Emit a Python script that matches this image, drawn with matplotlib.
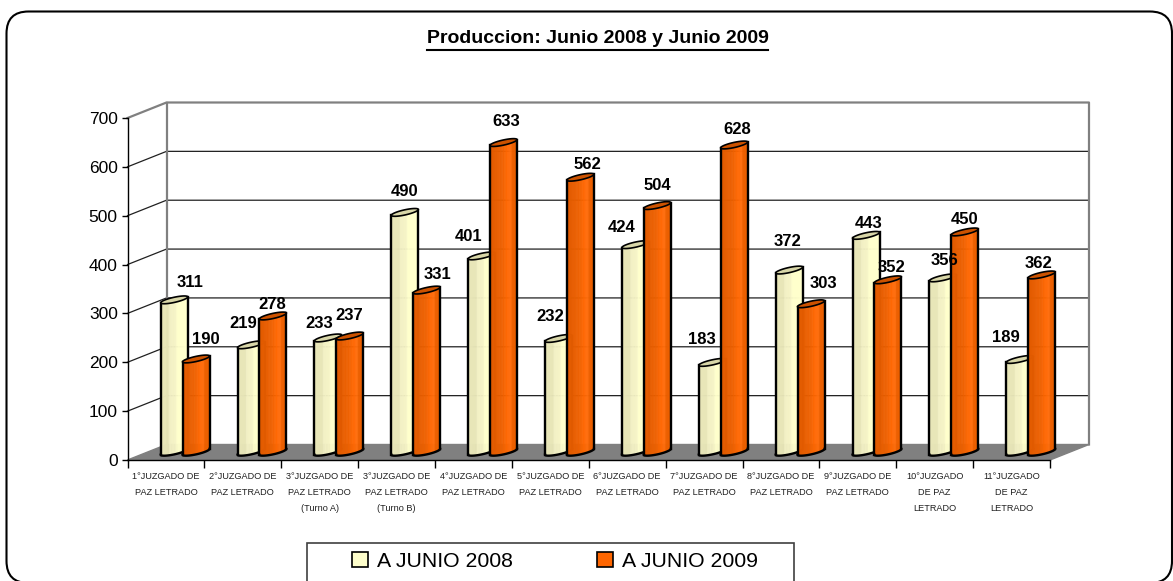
import numpy as np
import matplotlib
matplotlib.use("Agg")
import matplotlib.pyplot as plt
from matplotlib.lines import Line2D
from matplotlib.patches import FancyBboxPatch, Rectangle, Polygon
from matplotlib.collections import PolyCollection

CATEGORIES = ["1°JUZGADO DE\nPAZ LETRADO", "2°JUZGADO DE\nPAZ LETRADO",
              "3°JUZGADO DE\nPAZ LETRADO\n(Turno A)", "3°JUZGADO DE\nPAZ LETRADO\n(Turno B)",
              "4°JUZGADO DE\nPAZ LETRADO", "5°JUZGADO DE\nPAZ LETRADO",
              "6°JUZGADO DE\nPAZ LETRADO", "7°JUZGADO DE\nPAZ LETRADO",
              "8°JUZGADO DE\nPAZ LETRADO", "9°JUZGADO DE\nPAZ LETRADO",
              "10°JUZGADO\nDE PAZ\nLETRADO", "11°JUZGADO\nDE PAZ\nLETRADO"]
JUNIO_2008 = [311, 219, 233, 490, 401, 232, 424, 183, 372, 443, 356, 189]
JUNIO_2009 = [190, 278, 237, 331, 633, 562, 504, 628, 303, 352, 450, 362]
YTICKS = [0, 100, 200, 300, 400, 500, 600, 700]
TITLE = "Produccion: Junio 2008 y Junio 2009"
LEG_2008 = "A JUNIO 2008"
LEG_2009 = "A JUNIO 2009"

# label nudges in pixels (right, up from bar top)
NUDGE_2008 = [(16, 21), (-8, 25), (-8, 18), (0, 24), (-13, 23), (-8, 25),
              (-14, 20), (-10, 26), (-2, 32), (3, 15), (2, 21), (-14, 25)]
NUDGE_2009 = [(10, 23), (-1, 15), (-1, 24), (11, 19), (3, 24), (7.5, 16),
              (0, 23), (3, 19), (12, 23), (4, 16), (0, 16), (-3, 15)]

W, H = 1173, 581
plt.rcParams["font.family"] = ["Liberation Sans", "DejaVu Sans"]

fig = plt.figure(figsize=(W / 100, H / 100), dpi=100, facecolor="white")

# rounded frame (display pixels)
RAD = 22
frame = FancyBboxPatch((6.5 + RAD, -2 + RAD), 1172 - 6.5 - 2 * RAD, 569.5 + 2 - 2 * RAD,
                       boxstyle=f"round,pad={RAD},rounding_size={RAD}",
                       transform=None, fc="white", ec="black", lw=1.5, zorder=0)
fig.add_artist(frame)

L, R, T, B = 127.5, 1050.0, 118.0, 460.0
ax = fig.add_axes([L / W, (H - B) / H, (R - L) / W, (B - T) / H])
ax.set_xlim(0, 12)
ax.set_ylim(0, 700)
ax.patch.set_visible(False)
px = 12 / (R - L)   # data units per pixel
py = 700 / (B - T)
DX, DY = 39 * px, 15.5 * py

# floor and walls
GREY = "#808080"
ax.add_patch(Polygon([(0, 0), (12, 0), (12 + DX, DY), (DX, DY)], fc=GREY, ec=GREY, lw=1,
                     clip_on=False, zorder=1))
for v in YTICKS[1:-1]:
    ax.plot([0, DX, 12 + DX], [v, v + DY, v + DY], color="#202020", lw=0.9, clip_on=False, zorder=1)
ax.plot([0, DX, 12 + DX, 12 + DX], [700, 700 + DY, 700 + DY, DY], color=GREY, lw=1.6, clip_on=False, zorder=1.5)
ax.plot([DX, DX], [DY, 700 + DY], color=GREY, lw=1.6, clip_on=False, zorder=1.5)


def cylinder(x_left_px, value, stops, cap, zorder):
    a, tilt, m = 13.5, 2.9, 2.6
    x0 = x_left_px + a
    base = 8.2
    c = np.cos(np.linspace(np.pi, 0, 70))
    xs = x0 + a * c
    s = np.sqrt(np.clip(1 - c ** 2, 0, 1))
    lower = (base + tilt * c - m * s) * py
    upper = (base + tilt * c + m * s) * py
    xd = (xs - L) * px
    top = value + lower
    rgb = np.array([matplotlib.colors.to_rgb(col) for _, col in stops])
    pos = [p for p, _ in stops]
    polys, cols = [], []
    for i in range(len(xs) - 1):
        f = (xs[i] - xs[0]) / (xs[-1] - xs[0])
        polys.append([(xd[i], lower[i]), (xd[i + 1], lower[i + 1]), (xd[i + 1], top[i + 1]), (xd[i], top[i])])
        cols.append([np.interp(f, pos, rgb[:, k]) for k in range(3)])
    ax.add_collection(PolyCollection(polys, facecolors=cols, edgecolors=cols, linewidths=0.3,
                                     clip_on=False, zorder=zorder), autolim=False)
    ax.fill(np.r_[xd, xd[::-1]], np.r_[value + lower, value + upper[::-1]], fc=cap, ec="black", lw=1.2,
            clip_on=False, zorder=zorder + 0.02)
    ax.plot(xd, lower, color="black", lw=1.7, clip_on=False, zorder=zorder + 0.01)
    for j in (0, -1):
        ax.plot([xd[j], xd[j]], [lower[j], top[j]], color="black", lw=1.7, clip_on=False, zorder=zorder + 0.01)


YEL = [(0, "#E8E6B8"), (0.3, "#E8E6B8"), (0.33, "#F2F0C4"), (0.55, "#F6F4C6"), (0.6, "#FFFFCC"), (1, "#FFFFCC")]
ORG = [(0, "#E05A00"), (0.45, "#EE6000"), (0.62, "#FF6600"), (0.78, "#FF6E0E"), (0.82, "#EE6000"), (1, "#E85E00")]
STEP = (R - L) / 12
for i, (a_val, b_val) in enumerate(zip(JUNIO_2008, JUNIO_2009)):
    cylinder(160.7 + STEP * i, a_val, YEL, "#D8D6A8", 3 + i * 0.2)
    cylinder(182.5 + STEP * i, b_val, ORG, "#CC5200", 3.1 + i * 0.2)

for series, nudge, off in ((JUNIO_2008, NUDGE_2008, 174), (JUNIO_2009, NUDGE_2009, 196)):
    for k, v in enumerate(series):
        cx = (off - L) * px + k
        nx, ny = nudge[k]
        ax.annotate(str(v), xy=(cx, v + 5 * py), xytext=(nx * 0.72, ny * 0.72), textcoords="offset points",
                    ha="center", va="center", fontsize=12, fontweight="bold", color="black",
                    zorder=20, annotation_clip=False)

# axes: front left spine, bottom spine, real ticks
for s in ("top", "right"):
    ax.spines[s].set_visible(False)
for s in ("left", "bottom"):
    ax.spines[s].set_color("black")
    ax.spines[s].set_linewidth(1.0)
    ax.spines[s].set_zorder(2)
ax.set_yticks(YTICKS)
ax.tick_params(axis="y", length=4, width=1, pad=3, labelsize=12.5)
ax.set_xticks(range(13))
ax.set_xticklabels([""] * 13)
ax.tick_params(axis="x", length=6, width=1)
for i, c in enumerate(CATEGORIES):
    ax.text(i + 0.5, -12 * py, c, ha="center", va="top", fontsize=6.6,
            linespacing=1.97, color="#202020", clip_on=False)

fig.text(597.5 / W, 1 - 38.5 / H, TITLE, ha="center", va="center", fontsize=14, fontweight="bold", color="black")
fig.add_artist(Line2D([427 / W, 768 / W], [1 - 49.5 / H, 1 - 49.5 / H], color="black", lw=1.5))

# legend box
fig.add_artist(Rectangle((306.5 / W, -0.02), 487.5 / W, (H - 543) / H + 0.02, transform=fig.transFigure,
                         fc="white", ec="#404040", lw=1.2, zorder=5))
handles = [Rectangle((0, 0), 1, 1, fc="#FFFFCC", ec="black", lw=1.2),
           Rectangle((0, 0), 1, 1, fc="#FF6600", ec="black", lw=1.2)]
leg = fig.legend(handles, [LEG_2008, LEG_2009], ncol=2, frameon=False,
                 loc="center left", bbox_to_anchor=(352 / W, 1 - 561.5 / H),
                 prop={"size": 15.3},
                 handlelength=0.75, handleheight=0.75, handletextpad=0.42, columnspacing=3.95,
                 borderpad=0, borderaxespad=0)
leg.set_zorder(6)

fig.savefig("out.png", dpi=100)
